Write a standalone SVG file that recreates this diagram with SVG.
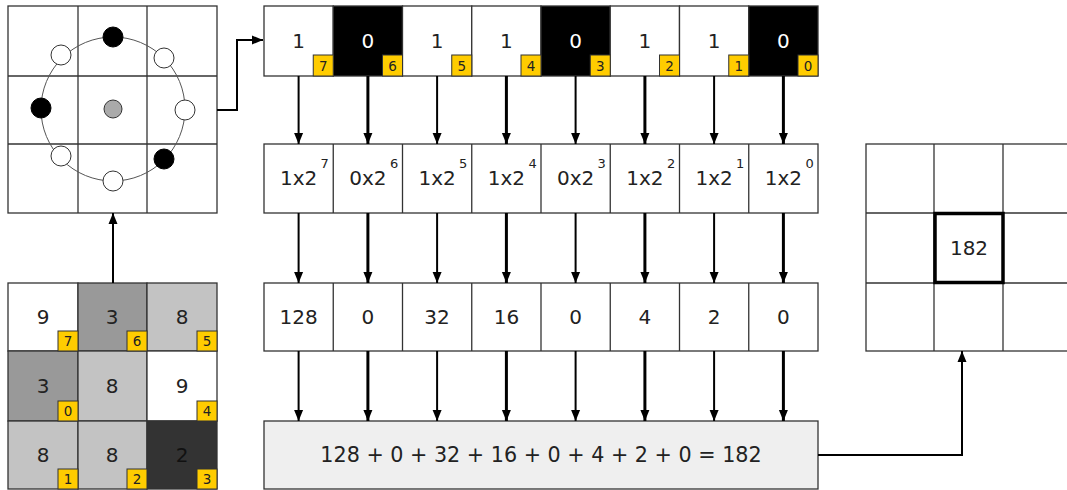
<svg xmlns="http://www.w3.org/2000/svg" width="1067" height="490" viewBox="0 0 1067 490">
<defs>
<marker id="ah" markerUnits="userSpaceOnUse" markerWidth="12" markerHeight="10" refX="11" refY="5" orient="auto">
<path d="M0,0.5 L11,5 L0,9.5 z" fill="#000"/>
</marker>
</defs>
<style>
text{font-family:"DejaVu Sans","Liberation Sans",sans-serif;fill:#222}
.n{font-size:20px;text-anchor:middle}
.sup{font-size:13px;text-anchor:start}
.w{fill:#fff}
.b{font-size:13.5px;text-anchor:middle;fill:#222}
.cell{stroke:#333;stroke-width:1.3}
.badge{fill:#ffcc00;stroke:#333;stroke-width:1}
.conn{fill:none;stroke:#000;marker-end:url(#ah)}
.t2{stroke-width:2}
.t3{stroke-width:3}
.grid{fill:none;stroke:#333;stroke-width:1.3}
</style>
<rect width="1067" height="490" fill="#fff"/>

<!-- Top-left neighbourhood grid -->
<g id="circle-grid">
<rect x="8" y="6" width="209" height="207" class="grid" fill="#fff"/>
<line x1="78" y1="6" x2="78" y2="213" class="grid"/>
<line x1="147" y1="6" x2="147" y2="213" class="grid"/>
<line x1="8" y1="76" x2="217" y2="76" class="grid"/>
<line x1="8" y1="144" x2="217" y2="144" class="grid"/>
<circle cx="113" cy="109" r="72" fill="none" stroke="#555" stroke-width="1"/>
<circle cx="113" cy="109" r="9" fill="#aaa" stroke="#333" stroke-width="1"/>
<circle cx="113" cy="37" r="10" fill="#000" stroke="#000"/>
<circle cx="164" cy="58" r="10" fill="#fff" stroke="#333"/>
<circle cx="185" cy="110" r="10" fill="#fff" stroke="#333"/>
<circle cx="164" cy="159" r="10" fill="#000" stroke="#000"/>
<circle cx="113" cy="181" r="10" fill="#fff" stroke="#333"/>
<circle cx="61" cy="156" r="10" fill="#fff" stroke="#333"/>
<circle cx="41" cy="108" r="10" fill="#000" stroke="#000"/>
<circle cx="61" cy="55" r="10" fill="#fff" stroke="#333"/>
</g>

<!-- Bottom-left pixel grid -->
<g id="pixel-grid">
<rect x="8" y="283" width="70" height="68" fill="#fff" class="cell"/>
<rect x="78" y="283" width="69" height="68" fill="#999" class="cell"/>
<rect x="147" y="283" width="70" height="68" fill="#c3c3c3" class="cell"/>
<rect x="8" y="351" width="70" height="70" fill="#999" class="cell"/>
<rect x="78" y="351" width="69" height="70" fill="#c3c3c3" class="cell"/>
<rect x="147" y="351" width="70" height="70" fill="#fff" class="cell"/>
<rect x="8" y="421" width="70" height="68" fill="#c3c3c3" class="cell"/>
<rect x="78" y="421" width="69" height="68" fill="#c3c3c3" class="cell"/>
<rect x="147" y="421" width="70" height="68" fill="#333" class="cell"/>
<text class="n" x="43" y="324">9</text>
<text class="n" x="112" y="324">3</text>
<text class="n" x="182" y="324">8</text>
<text class="n" x="43" y="393">3</text>
<text class="n" x="112" y="393">8</text>
<text class="n" x="182" y="393">9</text>
<text class="n" x="43" y="462">8</text>
<text class="n" x="112" y="462">8</text>
<text class="n" x="182" y="462" style="fill:#111">2</text>
<rect x="58" y="331" width="20" height="20" class="badge"/><text class="b" x="68" y="346">7</text>
<rect x="127" y="331" width="20" height="20" class="badge"/><text class="b" x="137" y="346">6</text>
<rect x="197" y="331" width="20" height="20" class="badge"/><text class="b" x="207" y="346">5</text>
<rect x="58" y="401" width="20" height="20" class="badge"/><text class="b" x="68" y="416">0</text>
<rect x="197" y="401" width="20" height="20" class="badge"/><text class="b" x="207" y="416">4</text>
<rect x="58" y="469" width="20" height="20" class="badge"/><text class="b" x="68" y="484">1</text>
<rect x="127" y="469" width="20" height="20" class="badge"/><text class="b" x="137" y="484">2</text>
<rect x="197" y="469" width="20" height="20" class="badge"/><text class="b" x="207" y="484">3</text>
</g>

<!-- Binary row -->
<g id="bits">
<rect x="264" y="6" width="69.25" height="70" fill="#fff" class="cell"/>
<rect x="333.25" y="6" width="69.25" height="70" fill="#000" class="cell"/>
<rect x="402.5" y="6" width="69.25" height="70" fill="#fff" class="cell"/>
<rect x="471.75" y="6" width="69.25" height="70" fill="#fff" class="cell"/>
<rect x="541" y="6" width="69.25" height="70" fill="#000" class="cell"/>
<rect x="610.25" y="6" width="69.25" height="70" fill="#fff" class="cell"/>
<rect x="679.5" y="6" width="69.25" height="70" fill="#fff" class="cell"/>
<rect x="748.75" y="6" width="69.25" height="70" fill="#000" class="cell"/>
<text class="n" x="298.6" y="48">1</text>
<text class="n w" x="367.9" y="48">0</text>
<text class="n" x="437.1" y="48">1</text>
<text class="n" x="506.4" y="48">1</text>
<text class="n w" x="575.6" y="48">0</text>
<text class="n" x="644.9" y="48">1</text>
<text class="n" x="714.1" y="48">1</text>
<text class="n w" x="783.4" y="48">0</text>
<rect x="313.25" y="55" width="20" height="21" class="badge"/><text class="b" x="323.25" y="70.5">7</text>
<rect x="382.5" y="55" width="20" height="21" class="badge"/><text class="b" x="392.5" y="70.5">6</text>
<rect x="451.75" y="55" width="20" height="21" class="badge"/><text class="b" x="461.75" y="70.5">5</text>
<rect x="521" y="55" width="20" height="21" class="badge"/><text class="b" x="531" y="70.5">4</text>
<rect x="590.25" y="55" width="20" height="21" class="badge"/><text class="b" x="600.25" y="70.5">3</text>
<rect x="659.5" y="55" width="20" height="21" class="badge"/><text class="b" x="669.5" y="70.5">2</text>
<rect x="728.75" y="55" width="20" height="21" class="badge"/><text class="b" x="738.75" y="70.5">1</text>
<rect x="798" y="55" width="20" height="21" class="badge"/><text class="b" x="808" y="70.5">0</text>
</g>

<!-- Powers row -->
<g id="powers">
<rect x="264" y="144" width="554" height="69" fill="#fff" class="cell"/>
<line x1="333.25" y1="144" x2="333.25" y2="213" class="cell"/>
<line x1="402.5" y1="144" x2="402.5" y2="213" class="cell"/>
<line x1="471.75" y1="144" x2="471.75" y2="213" class="cell"/>
<line x1="541" y1="144" x2="541" y2="213" class="cell"/>
<line x1="610.25" y1="144" x2="610.25" y2="213" class="cell"/>
<line x1="679.5" y1="144" x2="679.5" y2="213" class="cell"/>
<line x1="748.75" y1="144" x2="748.75" y2="213" class="cell"/>
<text class="n" x="298.6" y="185">1x2</text><text class="sup" x="320.6" y="168">7</text>
<text class="n" x="367.9" y="185">0x2</text><text class="sup" x="389.9" y="168">6</text>
<text class="n" x="437.1" y="185">1x2</text><text class="sup" x="459.1" y="168">5</text>
<text class="n" x="506.4" y="185">1x2</text><text class="sup" x="528.4" y="168">4</text>
<text class="n" x="575.6" y="185">0x2</text><text class="sup" x="597.6" y="168">3</text>
<text class="n" x="644.9" y="185">1x2</text><text class="sup" x="666.9" y="168">2</text>
<text class="n" x="714.1" y="185">1x2</text><text class="sup" x="736.1" y="168">1</text>
<text class="n" x="783.4" y="185">1x2</text><text class="sup" x="805.4" y="168">0</text>
</g>

<!-- Values row -->
<g id="values">
<rect x="264" y="283" width="554" height="68" fill="#fff" class="cell"/>
<line x1="333.25" y1="283" x2="333.25" y2="351" class="cell"/>
<line x1="402.5" y1="283" x2="402.5" y2="351" class="cell"/>
<line x1="471.75" y1="283" x2="471.75" y2="351" class="cell"/>
<line x1="541" y1="283" x2="541" y2="351" class="cell"/>
<line x1="610.25" y1="283" x2="610.25" y2="351" class="cell"/>
<line x1="679.5" y1="283" x2="679.5" y2="351" class="cell"/>
<line x1="748.75" y1="283" x2="748.75" y2="351" class="cell"/>
<text class="n" x="298.6" y="324">128</text>
<text class="n" x="367.9" y="324">0</text>
<text class="n" x="437.1" y="324">32</text>
<text class="n" x="506.4" y="324">16</text>
<text class="n" x="575.6" y="324">0</text>
<text class="n" x="644.9" y="324">4</text>
<text class="n" x="714.1" y="324">2</text>
<text class="n" x="783.4" y="324">0</text>
</g>

<!-- Sum box -->
<g id="sum">
<rect x="264" y="421" width="554" height="68" fill="#efefef" class="cell"/>
<text class="n" x="541" y="462" style="font-size:20.7px">128 + 0 + 32 + 16 + 0 + 4 + 2 + 0 = 182</text>
</g>

<!-- Output grid -->
<g id="output-grid">
<rect x="866" y="144" width="210" height="207" class="grid" fill="#fff"/>
<line x1="934" y1="144" x2="934" y2="351" class="grid"/>
<line x1="1003" y1="144" x2="1003" y2="351" class="grid"/>
<line x1="866" y1="213" x2="1076" y2="213" class="grid"/>
<line x1="866" y1="283" x2="1076" y2="283" class="grid"/>
<rect x="935" y="213.5" width="68" height="69" fill="#fff" stroke="#000" stroke-width="3.5"/>
<text class="n" x="969" y="255">182</text>
</g>

<!-- Connectors -->
<g id="connectors">
<path class="conn t2" d="M217,110 H237 V40 H263"/>
<path class="conn t2" d="M113,283 V213"/>
<path class="conn t2" d="M818,455 H962 V351"/>
<path class="conn t2" d="M298.6,76 V144"/>
<path class="conn t3" d="M367.9,76 V144"/>
<path class="conn t2" d="M437.1,76 V144"/>
<path class="conn t3" d="M506.4,76 V144"/>
<path class="conn t2" d="M575.6,76 V144"/>
<path class="conn t3" d="M644.9,76 V144"/>
<path class="conn t2" d="M714.1,76 V144"/>
<path class="conn t3" d="M783.4,76 V144"/>
<path class="conn t2" d="M298.6,213 V283"/>
<path class="conn t3" d="M367.9,213 V283"/>
<path class="conn t2" d="M437.1,213 V283"/>
<path class="conn t3" d="M506.4,213 V283"/>
<path class="conn t2" d="M575.6,213 V283"/>
<path class="conn t3" d="M644.9,213 V283"/>
<path class="conn t2" d="M714.1,213 V283"/>
<path class="conn t3" d="M783.4,213 V283"/>
<path class="conn t2" d="M298.6,351 V421"/>
<path class="conn t3" d="M367.9,351 V421"/>
<path class="conn t2" d="M437.1,351 V421"/>
<path class="conn t3" d="M506.4,351 V421"/>
<path class="conn t2" d="M575.6,351 V421"/>
<path class="conn t3" d="M644.9,351 V421"/>
<path class="conn t2" d="M714.1,351 V421"/>
<path class="conn t3" d="M783.4,351 V421"/>
</g>
</svg>
